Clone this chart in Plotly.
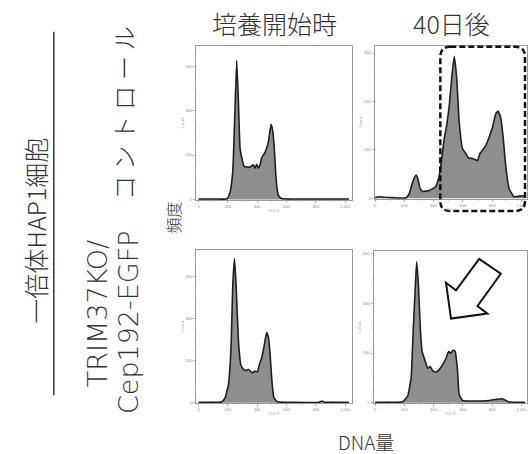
import plotly.graph_objects as go

W, H = 528, 454

# ---------------- data (FL2-H channel vs. cell count) ----------------
# Top-left: control, start of culture
ctrl_start_x = [0, 100, 193, 215, 233, 249, 260, 271, 283, 294, 310, 351, 373, 385, 396, 407, 419, 430,
                453, 475, 494, 505, 516, 528, 543, 566, 650, 800, 1024]
ctrl_start_y = [2, 2, 3, 34, 124, 421, 626, 451, 228, 190, 149, 146, 156, 141, 158, 141, 156, 188,
                212, 257, 338, 310, 228, 94, 19, 4, 2, 2, 2]

# Top-right: control, 40 days later
ctrl_40d_x = [0, 30, 60, 120, 212, 234, 257, 280, 291, 307, 325, 370, 411, 434, 449, 472, 488, 506, 524,
              540, 556, 574, 597, 620, 638, 665, 699, 715, 733, 755, 778, 801, 823, 839, 857, 873, 891,
              914, 948, 1004, 1024]
ctrl_40d_y = [1.5, 3, 2, 1, 1, 10, 34, 48, 41, 20, 14, 16, 23, 41, 68, 123, 150, 191, 252,
              293, 252, 157, 102, 92, 83, 82, 78, 92, 99, 109, 126, 146, 174, 180, 167, 129, 68,
              20, 3, 5, 4]

# Bottom-left: TRIM37KO/Cep192-EGFP, start of culture
ko_start_x = [0, 100, 159, 181, 204, 222, 233, 245, 256, 272, 288, 306, 324, 340, 356, 369, 385, 401,
              414, 430, 446, 464, 477, 486, 498, 513, 536, 650, 820, 841, 860, 1024]
ko_start_y = [2, 2, 5, 25, 88, 276, 559, 688, 559, 292, 182, 159, 154, 159, 148, 143, 151, 148,
              182, 214, 269, 336, 308, 245, 119, 25, 5, 2, 3, 8, 3, 2]

# Bottom-right: TRIM37KO/Cep192-EGFP, 40 days later
ko_40d_x = [0, 100, 189, 223, 246, 261, 275, 284, 296, 309, 321, 343, 359, 377, 393, 415, 438, 461,
            484, 502, 517, 533, 547, 563, 574, 597, 688, 778, 823, 869, 891, 914, 1024]
ko_40d_y = [2, 2, 4, 27, 100, 299, 471, 567, 471, 299, 206, 166, 139, 146, 129, 123, 133, 153,
            179, 206, 199, 212, 206, 126, 33, 9, 7, 9, 13, 16, 9, 3, 2]

col_titles = ["培養開始時", "40日後"]
row_titles = ["コ ン ト ロ ー ル", "TRIM37KO/", "Cep192-EGFP"]
group_title = "一倍体HAP1細胞"
x_title = "DNA量"
y_title = "頻度"

x_ticks = [0, 200, 400, 600, 800, 1000]
x_ticktext = ["0", "200", "400", "600", "800", "1,000"]


def px_x(p):
    return p / W


def px_y(p):
    return 1 - p / H


fig = go.Figure()

panels = [
    # (x, y, domain px x0,x1, domain px y0(top),y1(bottom), xrange, yrange, dtick)
    (ctrl_start_x, ctrl_start_y, (196, 352), (46, 201), [-15.6, 1043], [-3, 692], 200),
    (ctrl_40d_x, ctrl_40d_y, (375, 528), (46, 200), [-3.4, 1036.7], [-2, 315], 100),
    (ko_start_x, ko_start_y, (196, 352), (251, 405), [-15.6, 1043], [-2, 729], 200),
    (ko_40d_x, ko_40d_y, (374, 528), (252, 405), [-10, 1036.7], [-2, 611], 200),
]

axis_common = dict(
    showgrid=False, zeroline=False, showline=True, mirror=True,
    linecolor="#9a9a9a", linewidth=1, ticks="outside", ticklen=2, tickwidth=0.6,
    tickcolor="#8a8a8a", tickfont=dict(size=4, color="#8a8a8a", family="Arial"),
)

for i, (xs, ys, dx, dy, xr, yr, dt) in enumerate(panels):
    n = "" if i == 0 else str(i + 1)
    fig.add_trace(go.Scatter(
        x=xs, y=ys, mode="lines", fill="tozeroy",
        fillcolor="#8e8e8e", line=dict(color="#1e1e1e", width=1.6, shape="spline", smoothing=0.4),
        xaxis="x" + n, yaxis="y" + n, showlegend=False, hoverinfo="skip",
    ))
    fig.update_layout(**{
        "xaxis" + n: dict(axis_common, domain=[px_x(dx[0]), px_x(dx[1])], range=xr,
                          anchor="y" + n, tickvals=x_ticks, ticktext=x_ticktext,
                          minor=dict(dtick=100, ticks="outside", ticklen=1, tickcolor="#aaa"),
                          title=dict(text="FL2-H", font=dict(size=4, color="#999"), standoff=1)),
        "yaxis" + n: dict(axis_common, domain=[px_y(dy[1]), px_y(dy[0])], range=yr,
                          anchor="x" + n, dtick=dt,
                          minor=dict(dtick=dt / 4, ticks="outside", ticklen=1, tickcolor="#aaa"),
                          title=dict(text="Count", font=dict(size=4, color="#999"), standoff=1)),
    })

font_jp = "Noto Sans CJK JP"
font_lat = "DejaVu Sans"
txt = "#333333"
ann = []
ann.append(dict(text=col_titles[0], x=px_x(275), y=px_y(23),
                font=dict(size=25, family=font_jp, color=txt, weight=300)))
ann.append(dict(text=col_titles[1], x=px_x(452), y=px_y(23),
                font=dict(size=25, family=font_jp, color=txt, weight=300)))
ann.append(dict(text=group_title, x=px_x(34), y=px_y(232), textangle=-90,
                font=dict(size=25, family=font_jp, color=txt, weight=300)))
ann.append(dict(text=row_titles[0], x=px_x(123), y=px_y(114), textangle=-90,
                font=dict(size=24.5, family=font_jp, color=txt, weight=300)))
ann.append(dict(text=row_titles[1], x=px_x(97), y=px_y(315), textangle=-90,
                font=dict(size=27, family=font_lat, color=txt, weight=300)))
ann.append(dict(text=row_titles[2], x=px_x(128), y=px_y(324), textangle=-90,
                font=dict(size=27, family=font_lat, color=txt, weight=300)))
ann.append(dict(text=y_title, x=px_x(173), y=px_y(218), textangle=-90,
                font=dict(size=16, family=font_jp, color=txt, weight=300)))
ann.append(dict(text=x_title, x=px_x(366), y=px_y(443),
                font=dict(size=19, family=font_jp, color=txt, weight=300)))
for a in ann:
    a.update(xref="paper", yref="paper", xanchor="center", yanchor="middle", showarrow=False)


def pix_path(cmds):
    out = []
    for c in cmds:
        if isinstance(c, str):
            out.append(c)
        else:
            out.append(f"{px_x(c[0]):.5f},{px_y(c[1]):.5f}")
    return " ".join(out)


# dashed rounded rectangle (top-right panel)
x0, x1, y0, y1, r = 441, 526, 47, 212, 10
rect = pix_path(["M", (x0 + r, y0), "L", (x1 - r, y0), "Q", (x1, y0), (x1, y0 + r),
                 "L", (x1, y1 - r), "Q", (x1, y1), (x1 - r, y1),
                 "L", (x0 + r, y1), "Q", (x0, y1), (x0, y1 - r),
                 "L", (x0, y0 + r), "Q", (x0, y0), (x0 + r, y0), "Z"])

arrow_pts = [(446.7, 284), (456.7, 291.7), (480, 260), (501.7, 275), (478.3, 307.3), (488.3, 315), (451.7, 320)]
arrow = pix_path(["M", arrow_pts[0]] + sum([["L", p] for p in arrow_pts[1:]], []) + ["Z"])

shapes = [
    dict(type="line", xref="paper", yref="paper", x0=px_x(53), x1=px_x(53), y0=px_y(32), y1=px_y(397),
         line=dict(color="#333", width=1.5)),
    dict(type="path", xref="paper", yref="paper", path=rect,
         line=dict(color="#111", width=2.5, dash="6px,3px")),
    dict(type="path", xref="paper", yref="paper", path=arrow, fillcolor="white",
         line=dict(color="#111", width=2)),
]

fig.update_layout(
    width=W, height=H, margin=dict(l=0, r=0, t=0, b=0),
    paper_bgcolor="white", plot_bgcolor="white",
    annotations=ann, shapes=shapes, showlegend=False,
)

fig.write_html(
    "out.html",
    config={"displayModeBar": False, "staticPlot": True},
    post_script="document.body.style.margin='0';document.body.style.overflow='hidden';",
)
